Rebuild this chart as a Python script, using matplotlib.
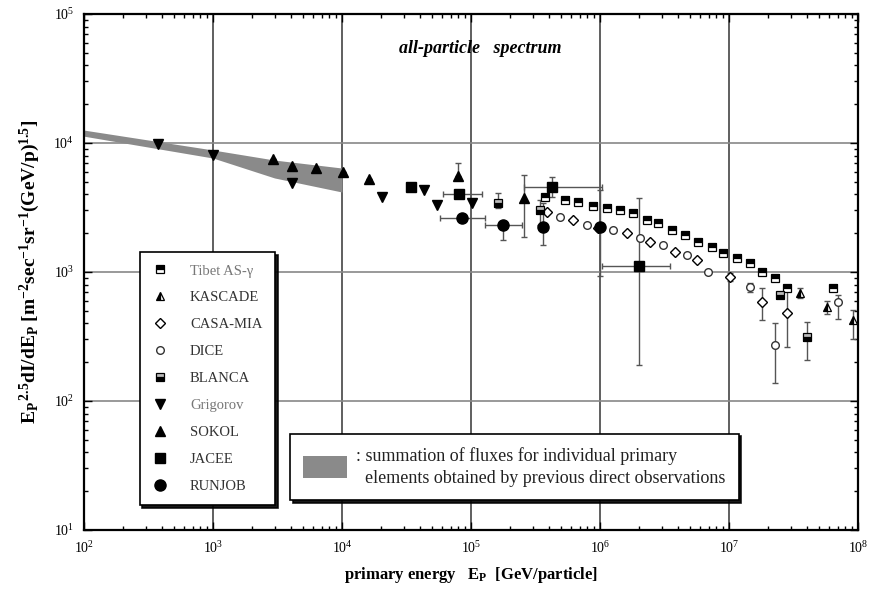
import numpy as np
import matplotlib
matplotlib.use("Agg")
import matplotlib.pyplot as plt
from matplotlib.ticker import LogLocator, NullFormatter

plt.rcParams["font.family"] = ["Liberation Serif", "DejaVu Serif"]
plt.rcParams["mathtext.fontset"] = "custom"
plt.rcParams["mathtext.rm"] = "Liberation Serif:bold"
plt.rcParams["mathtext.it"] = "Liberation Serif:italic:bold"
plt.rcParams["mathtext.bf"] = "Liberation Serif:bold"

# band: summation of direct observations
band_x = [1e2, 1e3, 3e3, 1e4]
band_hi = [12600, 8830, 7380, 6400]
band_lo = [11300, 7650, 5360, 4170]

# Tibet AS-gamma
tibet_x = [3.75e5, 5.35e5, 6.75e5, 8.8e5, 1.13e6, 1.43e6, 1.80e6, 2.31e6, 2.82e6, 3.61e6,
           4.56e6, 5.75e6, 7.38e6, 8.98e6, 1.15e7, 1.45e7, 1.80e7, 2.27e7, 2.82e7, 6.4e7]
tibet_y = [3810, 3610, 3490, 3250, 3140, 3030, 2870, 2530, 2400, 2120,
           1940, 1710, 1560, 1400, 1280, 1170, 1000, 900, 750, 751]

# KASCADE
kas_x = [3.55e7, 5.76e7, 9.1e7]
kas_y = [687, 536, 425]
kas_lo = [60, 60, 125]
kas_hi = [60, 60, 85]

# CASA-MIA
casa_x = [3.88e5, 6.18e5, 9.65e5, 1.62e6, 2.44e6, 3.81e6, 5.65e6, 1.02e7, 1.80e7, 2.82e7]
casa_y = [2920, 2530, 2190, 2010, 1710, 1430, 1240, 915, 585, 481]
casa_lo = [0, 0, 0, 0, 0, 0, 0, 60, 160, 219]
casa_hi = [0, 0, 0, 0, 0, 0, 0, 60, 165, 243]

# DICE
dice_x = [4.90e5, 7.93e5, 1.26e6, 2.04e6, 3.08e6, 4.72e6, 6.87e6, 1.45e7, 2.27e7, 7.0e7]
dice_y = [2670, 2310, 2120, 1840, 1620, 1360, 1000, 766, 272, 585]
dice_lo = [0, 0, 0, 0, 0, 0, 0, 60, 134, 150]
dice_hi = [0, 0, 0, 0, 0, 0, 0, 60, 131, 80]

# BLANCA
blanca_x = [1.62e5, 3.43e5, 2.48e7, 4.03e7]
blanca_y = [3430, 3030, 664, 313]
blanca_lo = [300, 700, 40, 105]
blanca_hi = [700, 600, 40, 96]

# Grigorov
grig_x = [375, 1000, 4100, 20400, 4.3e4, 5.45e4, 1.02e5]
grig_y = [9800, 8070, 4900, 3810, 4300, 3300, 3430]

# SOKOL
sokol_x = [2920, 4100, 6290, 10200, 16200, 7.9e4, 2.58e5]
sokol_y = [7520, 6640, 6400, 5960, 5260, 5550, 3750]
sokol_lo = [0, 0, 0, 0, 0, 0, 1880]
sokol_hi = [0, 0, 0, 0, 0, 1450, 1900]

# JACEE
jacee_x = [3.4e4, 8.07e4, 4.25e5, 2.0e6]
jacee_y = [4600, 4020, 4560, 1110]
jacee_xlo = [0, 1.97e4, 1.68e5, 0.96e6]
jacee_xhi = [0, 4.1e4, 6.15e5, 1.49e6]
jacee_lo = [0, 0, 750, 920]
jacee_hi = [0, 0, 890, 2640]

# RUNJOB
runjob_x = [8.5e4, 1.77e5, 3.61e5, 1.0e6]
runjob_y = [2620, 2310, 2230, 2230]
runjob_xlo = [2.75e4, 4.8e4, 0, 0]
runjob_xhi = [4.4e4, 7.3e4, 0, 0]
runjob_lo = [0, 540, 610, 1300]
runjob_hi = [0, 0, 1200, 2100]

fig = plt.figure(figsize=(8.73, 5.90), dpi=100)
ax = fig.add_axes([0.0962, 0.1017, 0.8866, 0.8745])
ax.set_xscale("log")
ax.set_yscale("log")
ax.set_xlim(1e2, 1e8)
ax.set_ylim(1e1, 1e5)

for v in [1e3, 1e4, 1e5, 1e6, 1e7]:
    ax.axvline(v, color="#444444", lw=1.2, zorder=1)
for v in [1e2, 1e3, 1e4]:
    ax.axhline(v, color="#888888", lw=1.2, zorder=1)

band = ax.fill_between(band_x, band_lo, band_hi, color="#8a8a8a", lw=0, zorder=2)

ek = dict(fmt="none", ecolor="#555555", elinewidth=1.0, capsize=2.5, zorder=3)
ax.errorbar(kas_x, kas_y, yerr=[kas_lo, kas_hi], **ek)
ax.errorbar(casa_x, casa_y, yerr=[casa_lo, casa_hi], **ek)
ax.errorbar(dice_x, dice_y, yerr=[dice_lo, dice_hi], **ek)
ax.errorbar(blanca_x, blanca_y, yerr=[blanca_lo, blanca_hi], **ek)
ax.errorbar(sokol_x, sokol_y, yerr=[sokol_lo, sokol_hi], **ek)
ax.errorbar(jacee_x, jacee_y, xerr=[jacee_xlo, jacee_xhi], yerr=[jacee_lo, jacee_hi], **ek)
ax.errorbar(runjob_x, runjob_y, xerr=[runjob_xlo, runjob_xhi], yerr=[runjob_lo, runjob_hi], **ek)

h_tibet, = ax.plot(tibet_x, tibet_y, ls="none", marker="s", ms=6, mfc="black", mfcalt="white",
                   fillstyle="top", mec="black", mew=0.9, zorder=4)
h_kas, = ax.plot(kas_x, kas_y, ls="none", marker="^", ms=6, mfc="black", mfcalt="white",
                 fillstyle="left", mec="black", mew=0.9, zorder=4)
h_casa, = ax.plot(casa_x, casa_y, ls="none", marker="D", ms=5, mfc="white", mec="black",
                  mew=1.0, zorder=4)
h_dice, = ax.plot(dice_x, dice_y, ls="none", marker="o", ms=5.5, mfc="white", mec="#333333",
                  mew=1.0, zorder=4)
h_blanca, = ax.plot(blanca_x, blanca_y, ls="none", marker="s", ms=6, mfc="black", mfcalt="#bbbbbb",
                    fillstyle="bottom", mec="black", mew=0.9, zorder=4)
h_grig, = ax.plot(grig_x, grig_y, ls="none", marker="v", ms=7, color="black", zorder=4)
h_sokol, = ax.plot(sokol_x, sokol_y, ls="none", marker="^", ms=7, color="black", zorder=4)
h_jacee, = ax.plot(jacee_x, jacee_y, ls="none", marker="s", ms=7, color="black", zorder=4)
h_runjob, = ax.plot(runjob_x, runjob_y, ls="none", marker="o", ms=8, color="black", zorder=4)

labels = ["Tibet AS-\u03b3", "KASCADE", "CASA-MIA", "DICE", "BLANCA",
          "Grigorov", "SOKOL", "JACEE", "RUNJOB"]
handles = [h_tibet, h_kas, h_casa, h_dice, h_blanca, h_grig, h_sokol, h_jacee, h_runjob]
leg = ax.legend(handles, labels, loc="lower left", bbox_to_anchor=(0.072, 0.048),
                frameon=True, fancybox=False, shadow={"color": "black", "alpha": 0.9},
                edgecolor="black", framealpha=1, fontsize=10.5, labelspacing=0.94,
                handlelength=1.1, handletextpad=1.5, borderpad=0.85, borderaxespad=0)
leg.get_frame().set_linewidth(1.2)
for t in leg.get_texts():
    t.set_color("#333333")
leg.get_texts()[0].set_color("#777777")
leg.get_texts()[5].set_color("#777777")
ax.add_artist(leg)

leg2 = ax.legend([band], [": summation of fluxes for individual primary\n  elements obtained by previous direct observations"],
                 loc="lower left", bbox_to_anchor=(0.266, 0.058), frameon=True, fancybox=False,
                 shadow={"color": "black", "alpha": 0.9}, edgecolor="black", framealpha=1,
                 fontsize=13, handlelength=2.4, handleheight=1.5, handletextpad=0.5,
                 borderpad=0.75, borderaxespad=0)
leg2.get_frame().set_linewidth(1.2)
for t in leg2.get_texts():
    t.set_color("#222222")
    t.set_linespacing(1.35)

ax.text(0.512, 0.934, "all-particle   spectrum", transform=ax.transAxes, ha="center",
        va="center", fontsize=13, fontweight="bold", fontstyle="italic")

ax.xaxis.set_major_locator(LogLocator(base=10, numticks=10))
ax.xaxis.set_minor_locator(LogLocator(base=10, subs=np.arange(2, 10), numticks=20))
ax.yaxis.set_minor_locator(LogLocator(base=10, subs=np.arange(2, 10), numticks=20))
ax.xaxis.set_minor_formatter(NullFormatter())
ax.yaxis.set_minor_formatter(NullFormatter())
ax.tick_params(which="both", direction="in", top=True, right=True, width=1.0)
ax.tick_params(which="major", length=6, labelsize=10, pad=7)
ax.tick_params(which="minor", length=3)
for s in ax.spines.values():
    s.set_linewidth(1.6)

ax.set_xlabel(r"primary energy   E$_{\rm P}$  [GeV/particle]", fontsize=12, fontweight="bold",
              labelpad=7)
ax.set_ylabel(r"E$_{\rm P}$$^{\,2.5}$dI/dE$_{\rm P}$ [m$^{-2}$sec$^{-1}$sr$^{-1}$(GeV/p)$^{1.5}$]",
              fontsize=14, fontweight="bold", labelpad=8)

fig.savefig("out.png", dpi=100)
